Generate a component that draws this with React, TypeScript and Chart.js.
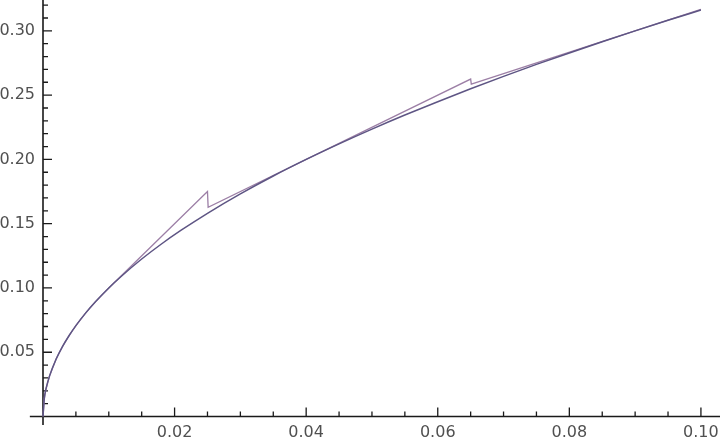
import { useEffect, useRef } from "react"
import { Chart, registerables } from "chart.js"

Chart.register(...registerables)

// sqrt(x) curve
const curveX = [0, 0.0002, 0.0005, 0.001, 0.002, 0.003, 0.004, 0.005, 0.0065, 0.008, 0.01, 0.012, 0.015, 0.018, 0.021, 0.025, 0.03, 0.035, 0.04, 0.045, 0.05, 0.055, 0.06, 0.065, 0.07, 0.075, 0.08, 0.085, 0.09, 0.095, 0.1]
const curveY = [0, 0.0141, 0.0224, 0.0316, 0.0447, 0.0548, 0.0632, 0.0707, 0.0806, 0.0894, 0.1, 0.1095, 0.1225, 0.1342, 0.1449, 0.1581, 0.1732, 0.1871, 0.2, 0.2121, 0.2236, 0.2345, 0.2449, 0.255, 0.2646, 0.2739, 0.2828, 0.2915, 0.3, 0.3082, 0.3162]

// piecewise linear approximation with jumps at 0.025 and 0.065
const approxX = [0, 0.0002, 0.0005, 0.001, 0.002, 0.003, 0.004, 0.005, 0.0065, 0.008, 0.01, 0.025, 0.0251, 0.065, 0.0651, 0.1]
const approxY = [0, 0.0141, 0.0224, 0.0316, 0.0447, 0.0548, 0.0632, 0.0707, 0.0806, 0.0894, 0.1, 0.175, 0.1627, 0.2625, 0.2585, 0.3167]

const xMin = 0
const xMax = 0.1029
const yMin = 0
const yMax = 0.324

const axisPlugin = {
  id: "mmaAxes",
  beforeDatasetsDraw(chart: any) {
    const { ctx } = chart
    const xs = chart.scales.x
    const ys = chart.scales.y
    const x0 = xs.getPixelForValue(0)
    const y0 = ys.getPixelForValue(0)
    ctx.save()
    ctx.strokeStyle = "#1a1a1a"
    ctx.lineWidth = 1.6
    ctx.beginPath()
    ctx.moveTo(xs.getPixelForValue(-0.002), y0)
    ctx.lineTo(chart.width, y0)
    ctx.moveTo(x0, ys.getPixelForValue(-0.0067))
    ctx.lineTo(x0, 0)
    ctx.stroke()

    ctx.lineWidth = 1.3
    ctx.beginPath()
    // x ticks every 0.005, major every 0.02
    for (let i = 1; i <= 20; i++) {
      const px = xs.getPixelForValue(i * 0.005)
      const len = i % 4 === 0 ? 9 : 5
      ctx.moveTo(px, y0)
      ctx.lineTo(px, y0 - len)
    }
    // y ticks every 0.01, major every 0.05
    for (let i = 1; i <= 32; i++) {
      const py = ys.getPixelForValue(i * 0.01)
      const len = i % 5 === 0 ? 9 : 5
      ctx.moveTo(x0, py)
      ctx.lineTo(x0 + len, py)
    }
    ctx.stroke()
    ctx.restore()
  },
}

export default function App() {
  const chartRef = useRef<HTMLCanvasElement>(null)
  const chartInstance = useRef<Chart | null>(null)

  useEffect(() => {
    if (!chartRef.current) return
    if (chartInstance.current) chartInstance.current.destroy()
    const ctx = chartRef.current.getContext("2d")
    if (!ctx) return

    const labelFont = { family: "'DejaVu Sans', sans-serif", size: 16 }

    chartInstance.current = new Chart(ctx, {
      type: "line",
      data: {
        datasets: [
          {
            label: "sqrt",
            data: curveX.map((x, i) => ({ x, y: curveY[i] })),
            borderColor: "#5e5584",
            borderWidth: 1.5,
            pointRadius: 0,
            cubicInterpolationMode: "monotone",
            clip: false as any,
          },
          {
            label: "approx",
            data: approxX.map((x, i) => ({ x, y: approxY[i] })),
            borderColor: "#9c7fa6",
            borderWidth: 1.3,
            pointRadius: 0,
            tension: 0,
            clip: false as any,
          },
        ],
      },
      options: {
        animation: false,
        responsive: true,
        maintainAspectRatio: false,
        layout: { padding: 0 },
        plugins: {
          legend: { display: false },
          tooltip: { enabled: false },
        },
        scales: {
          x: {
            type: "linear",
            min: xMin,
            max: xMax,
            grid: { display: false, drawTicks: false },
            border: { display: false },
            ticks: {
              stepSize: 0.02,
              includeBounds: false,
              autoSkip: false,
              maxRotation: 0,
              padding: 7,
              color: "#505050",
              font: labelFont,
              callback: (v: any) => (Number(v) === 0 ? "" : Number(v).toFixed(2)),
            },
            afterFit: (scale: any) => {
              scale.height = 31.5
              scale.paddingLeft = 0
              scale.paddingRight = 0
            },
          },
          y: {
            type: "linear",
            min: yMin,
            max: yMax,
            grid: { display: false, drawTicks: false },
            border: { display: false },
            ticks: {
              stepSize: 0.05,
              includeBounds: false,
              autoSkip: false,
              padding: 8,
              color: "#505050",
              font: labelFont,
              callback: (v: any) => (Number(v) === 0 ? "" : Number(v).toFixed(2)),
            },
            afterFit: (scale: any) => {
              scale.width = 43
              scale.paddingTop = 0
              scale.paddingBottom = 0
            },
          },
        },
      },
      plugins: [axisPlugin],
    })

    return () => {
      if (chartInstance.current) {
        chartInstance.current.destroy()
        chartInstance.current = null
      }
    }
  }, [])

  return (
    <div style={{ position: "absolute", left: 0, top: 0, width: 720, height: 448, background: "#fff" }}>
      <canvas ref={chartRef}></canvas>
    </div>
  )
}
